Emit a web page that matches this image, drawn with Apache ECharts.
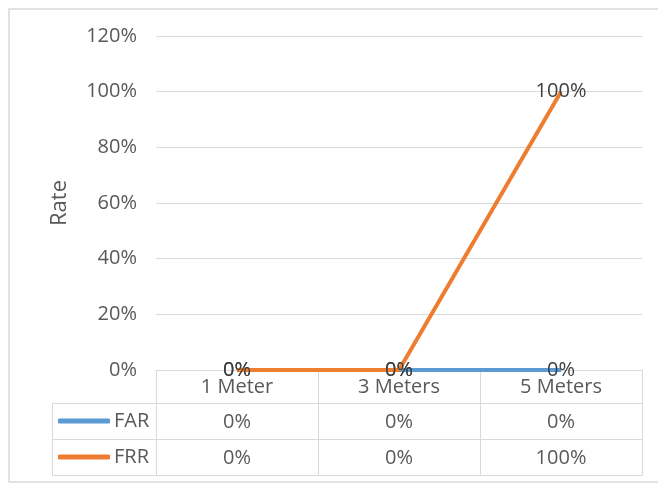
<!DOCTYPE html>
<html><head><meta charset="utf-8">
<script src="https://cdn.jsdelivr.net/npm/echarts@6/dist/echarts.min.js"></script>
<style>html,body{margin:0;padding:0;background:#fff}#c{width:658px;height:487px}</style>
</head><body><div id="c"></div>
<script>
var categories = ['1 Meter', '3 Meters', '5 Meters'];
var farValues = [0, 0, 0];
var frrValues = [0, 0, 1];
var seriesNames = ['FAR', 'FRR'];
var yTicks = [0, 0.2, 0.4, 0.6, 0.8, 1.0, 1.2];

var pct = function (v) { return Math.round(v * 100) + '%'; };
var FONT = 'Open Sans, Liberation Sans, sans-serif';
var GRID = '#d9d9d9';
var TXT = '#595959';
var FS = 20;

var chart = echarts.init(document.getElementById('c'), null, {renderer: 'canvas'});

function rowAxis(data, offset) {
  return {
    type: 'category', data: data, position: 'bottom', offset: offset,
    axisLine: {show: true, lineStyle: {color: GRID, width: 1}},
    axisTick: {show: false},
    axisLabel: {color: TXT, fontSize: FS, fontFamily: FONT, margin: 9, lineHeight: 20}
  };
}

var option = {
  animation: false,
  textStyle: {fontFamily: FONT},
  grid: {left: 156, right: 16, top: 36, bottom: 117},
  legend: {
    orient: 'vertical', left: 58, top: 411, itemGap: 16, padding: 0,
    itemWidth: 52, itemHeight: 5, icon: 'roundRect',
    data: seriesNames,
    textStyle: {color: TXT, fontSize: FS, fontFamily: FONT, lineHeight: 20, padding: [0, 0, 0, -1]},
    selectedMode: false
  },
  xAxis: [
    {
      type: 'category', data: categories, position: 'bottom',
      axisLine: {show: true, lineStyle: {color: GRID, width: 1}},
      axisTick: {show: true, length: 105, lineStyle: {color: GRID}},
      axisLabel: {color: TXT, fontSize: FS, fontFamily: FONT, margin: 7, lineHeight: 20}
    },
    rowAxis(farValues.map(pct), 33),
    rowAxis(frrValues.map(pct), 69),
    {
      type: 'category', data: categories, position: 'bottom', offset: 105,
      axisLine: {show: true, lineStyle: {color: GRID}},
      axisTick: {show: false}, axisLabel: {show: false}
    }
  ],
  yAxis: {
    type: 'value', min: yTicks[0], max: yTicks[yTicks.length - 1], interval: 0.2,
    name: 'Rate', nameLocation: 'middle', nameGap: 85,
    nameTextStyle: {color: TXT, fontSize: 22, fontFamily: FONT},
    axisLine: {show: false}, axisTick: {show: false},
    axisLabel: {color: TXT, fontSize: FS, fontFamily: FONT, margin: 19, formatter: pct},
    splitLine: {lineStyle: {color: GRID, width: 1}}
  },
  series: [
    {
      name: seriesNames[0], type: 'line', data: farValues,
      symbol: 'circle', symbolSize: 1,
      lineStyle: {color: '#5b9bd5', width: 4}, itemStyle: {color: '#5b9bd5'},
      label: {show: true, position: 'inside', formatter: function (p) { return pct(p.value); },
        color: '#404040', fontSize: FS, fontFamily: FONT, offset: [0, 0]},
      z: 2
    },
    {
      name: seriesNames[1], type: 'line', data: frrValues,
      symbol: 'circle', symbolSize: 1,
      lineStyle: {color: '#ed7d31', width: 4}, itemStyle: {color: '#ed7d31'},
      label: {show: true, position: 'inside', formatter: function (p) { return pct(p.value); },
        color: '#404040', fontSize: FS, fontFamily: FONT, offset: [0, 0]},
      z: 3
    }
  ],
  graphic: [
    {type: 'rect', shape: {x: 9, y: 9, width: 660, height: 473}, style: {fill: null, stroke: '#d9d9d9', lineWidth: 1.5}, silent: true},
    {type: 'line', shape: {x1: 52, y1: 403.5, x2: 156, y2: 403.5}, style: {stroke: GRID, lineWidth: 1}},
    {type: 'line', shape: {x1: 52, y1: 439.5, x2: 156, y2: 439.5}, style: {stroke: GRID, lineWidth: 1}},
    {type: 'line', shape: {x1: 52, y1: 475.5, x2: 156, y2: 475.5}, style: {stroke: GRID, lineWidth: 1}},
    {type: 'line', shape: {x1: 52.5, y1: 403, x2: 52.5, y2: 475}, style: {stroke: GRID, lineWidth: 1}}
  ]
};
chart.setOption(option);
</script></body></html>
